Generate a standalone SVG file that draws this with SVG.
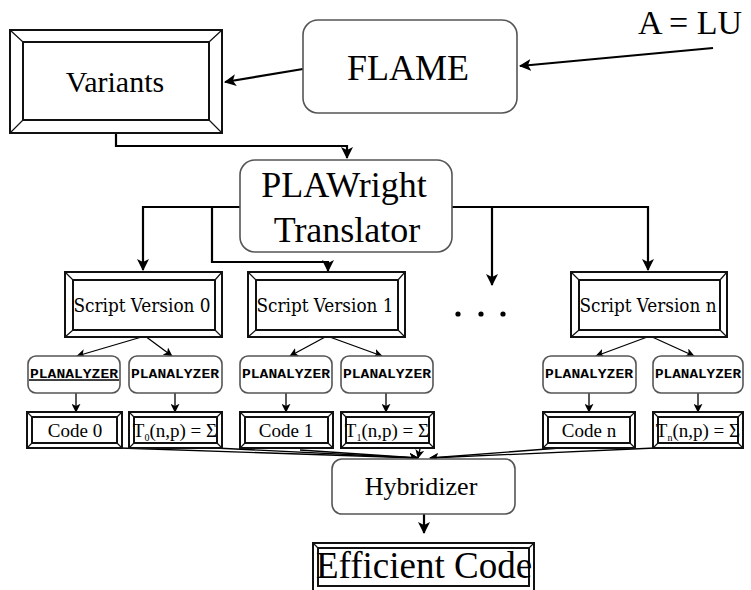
<svg xmlns="http://www.w3.org/2000/svg" width="751" height="590" viewBox="0 0 751 590">
  <defs>
    <marker id="arr" viewBox="0 0 12 12" refX="11" refY="6" markerWidth="12" markerHeight="12" markerUnits="userSpaceOnUse" orient="auto">
      <path d="M0,0 L12,6 L0,12 L3,6 Z" fill="#000"/>
    </marker>
    <marker id="arrs" viewBox="0 0 12 12" refX="11" refY="6" markerWidth="9" markerHeight="9" markerUnits="userSpaceOnUse" orient="auto">
      <path d="M0,0 L12,6 L0,12 L3,6 Z" fill="#000"/>
    </marker>
  </defs>
  <style>
    .frame { fill: #fff; stroke: #111; stroke-width: 2; }
    .inner { fill: none; stroke: #111; stroke-width: 2; }
    .bevel { stroke: #111; stroke-width: 1.2; }
    .round { fill: #fff; stroke: #555; stroke-width: 1.6; }
    .edge { fill: none; stroke: #000; stroke-width: 2.2; }
    .thin { fill: none; stroke: #000; stroke-width: 1.3; }
    text { fill: #000; text-anchor: middle; }
  </style>

  <rect width="751" height="590" fill="#fff"/>

  <!-- connectors -->
  <g id="connectors">
    <line class="edge" x1="713" y1="48" x2="520" y2="66" marker-end="url(#arr)"/>
    <line class="edge" x1="303" y1="69" x2="225" y2="82" marker-end="url(#arr)"/>
    <polyline class="edge" points="116,133 116,146 347,146 347,158" marker-end="url(#arr)"/>
    <polyline class="edge" points="240,207 143,207 143,270" marker-end="url(#arr)"/>
    <polyline class="edge" points="212,207 212,262 328,262 328,271" marker-end="url(#arr)"/>
    <polyline class="edge" points="452,207 648,207 648,270" marker-end="url(#arr)"/>
    <polyline class="edge" points="492,207 492,285" marker-end="url(#arr)"/>

    <line class="thin" x1="145" y1="336" x2="77" y2="356" marker-end="url(#arrs)"/>
    <line class="thin" x1="145" y1="336" x2="172" y2="356" marker-end="url(#arrs)"/>
    <line class="thin" x1="327" y1="336" x2="290" y2="356" marker-end="url(#arrs)"/>
    <line class="thin" x1="327" y1="336" x2="382" y2="356" marker-end="url(#arrs)"/>
    <line class="thin" x1="650" y1="336" x2="596" y2="356" marker-end="url(#arrs)"/>
    <line class="thin" x1="650" y1="336" x2="694" y2="356" marker-end="url(#arrs)"/>

    <line class="thin" x1="76" y1="393" x2="76" y2="412" marker-end="url(#arrs)"/>
    <line class="thin" x1="175" y1="393" x2="175" y2="412" marker-end="url(#arrs)"/>
    <line class="thin" x1="286" y1="393" x2="286" y2="412" marker-end="url(#arrs)"/>
    <line class="thin" x1="386" y1="393" x2="386" y2="412" marker-end="url(#arrs)"/>
    <line class="thin" x1="589" y1="393" x2="589" y2="412" marker-end="url(#arrs)"/>
    <line class="thin" x1="698" y1="393" x2="698" y2="412" marker-end="url(#arrs)"/>

    <line class="thin" x1="120" y1="448" x2="418" y2="458" marker-end="url(#arrs)"/>
    <line class="thin" x1="215" y1="448" x2="418" y2="458" marker-end="url(#arrs)"/>
    <line class="thin" x1="300" y1="450" x2="418" y2="458" marker-end="url(#arrs)"/>
    <line class="thin" x1="420" y1="449" x2="418" y2="458" marker-end="url(#arrs)"/>
    <line class="thin" x1="560" y1="448" x2="430" y2="458" marker-end="url(#arrs)"/>
    <line class="thin" x1="655" y1="448" x2="430" y2="458" marker-end="url(#arrs)"/>
    <line class="edge" x1="424" y1="514" x2="424" y2="533" marker-end="url(#arr)"/>
  </g>

  <!-- input label -->
  <g id="input">
    <text x="690" y="34" font-size="34" font-family="Liberation Serif, DejaVu Serif, serif">A = LU</text>
  </g>

  <g id="flame">
    <rect class="round" x="303" y="20" width="214" height="93" rx="15"/>
    <text x="408" y="80" font-size="36" font-family="Liberation Serif, DejaVu Serif, serif">FLAME</text>
  </g>

  <g id="variants">
    <rect class="frame" x="10" y="30" width="212" height="103"/>
    <rect class="inner" x="23" y="42" width="186" height="78"/>
    <path class="bevel" d="M10,30 L23,42 M222,30 L209,42 M10,133 L23,120 M222,133 L209,120"/>
    <text x="115" y="92" font-size="30" font-family="Liberation Serif, DejaVu Serif, serif">Variants</text>
  </g>

  <g id="plawright">
    <rect class="round" x="240" y="160" width="212" height="92" rx="15"/>
    <text x="344" y="197" font-size="36" font-family="Liberation Serif, DejaVu Serif, serif">PLAWright</text>
    <text x="347" y="242" font-size="36" font-family="Liberation Serif, DejaVu Serif, serif">Translator</text>
  </g>

  <g id="script0">
    <rect class="frame" x="65" y="272" width="157" height="65"/>
    <rect class="inner" x="73" y="280" width="142" height="50"/>
    <path class="bevel" d="M65,272 L73,280 M222,272 L215,280 M65,337 L73,330 M222,337 L215,330"/>
    <text x="142" y="312" font-size="18" font-family="DejaVu Serif Condensed, DejaVu Serif, serif" textLength="137" lengthAdjust="spacingAndGlyphs">Script Version 0</text>
  </g>
  <g id="script1">
    <rect class="frame" x="248" y="272" width="157" height="65"/>
    <rect class="inner" x="256" y="280" width="142" height="50"/>
    <path class="bevel" d="M248,272 L256,280 M405,272 L398,280 M248,337 L256,330 M405,337 L398,330"/>
    <text x="325" y="312" font-size="18" font-family="DejaVu Serif Condensed, DejaVu Serif, serif" textLength="137" lengthAdjust="spacingAndGlyphs">Script Version 1</text>
  </g>
  <g id="dots">
    <circle cx="458" cy="314" r="2.6" fill="#000"/>
    <circle cx="481" cy="314" r="2.6" fill="#000"/>
    <circle cx="503" cy="314" r="2.6" fill="#000"/>
  </g>
  <g id="scriptn">
    <rect class="frame" x="571" y="272" width="156" height="65"/>
    <rect class="inner" x="579" y="280" width="141" height="50"/>
    <path class="bevel" d="M571,272 L579,280 M727,272 L720,280 M571,337 L579,330 M727,337 L720,330"/>
    <text x="648" y="312" font-size="18" font-family="DejaVu Serif Condensed, DejaVu Serif, serif" textLength="137" lengthAdjust="spacingAndGlyphs">Script Version n</text>
  </g>

  <!-- analyzers -->
  <g id="analyzer0a">
    <rect class="round" x="28" y="356" width="92" height="37" rx="8"/>
    <line class="thin" x1="29" y1="380" x2="119" y2="380"/>
    <text x="74" y="378" font-size="12" font-weight="bold" font-family="Liberation Mono, DejaVu Sans Mono, monospace" textLength="88" lengthAdjust="spacingAndGlyphs">PLANALYZER</text>
  </g>
  <g id="analyzer0b">
    <rect class="round" x="129" y="356" width="93" height="37" rx="8"/>
    <text x="175" y="378" font-size="12" font-weight="bold" font-family="Liberation Mono, DejaVu Sans Mono, monospace" textLength="88" lengthAdjust="spacingAndGlyphs">PLANALYZER</text>
  </g>
  <g id="analyzer1a">
    <rect class="round" x="240" y="356" width="92" height="37" rx="8"/>
    <text x="286" y="378" font-size="12" font-weight="bold" font-family="Liberation Mono, DejaVu Sans Mono, monospace" textLength="88" lengthAdjust="spacingAndGlyphs">PLANALYZER</text>
  </g>
  <g id="analyzer1b">
    <rect class="round" x="341" y="356" width="92" height="37" rx="8"/>
    <text x="387" y="378" font-size="12" font-weight="bold" font-family="Liberation Mono, DejaVu Sans Mono, monospace" textLength="88" lengthAdjust="spacingAndGlyphs">PLANALYZER</text>
  </g>
  <g id="analyzerna">
    <rect class="round" x="543" y="356" width="93" height="37" rx="8"/>
    <text x="589" y="378" font-size="12" font-weight="bold" font-family="Liberation Mono, DejaVu Sans Mono, monospace" textLength="88" lengthAdjust="spacingAndGlyphs">PLANALYZER</text>
  </g>
  <g id="analyzernb">
    <rect class="round" x="653" y="356" width="90" height="37" rx="8"/>
    <text x="698" y="378" font-size="12" font-weight="bold" font-family="Liberation Mono, DejaVu Sans Mono, monospace" textLength="86" lengthAdjust="spacingAndGlyphs">PLANALYZER</text>
  </g>

  <!-- generated code and cost models -->
  <g id="code0">
    <rect class="frame" x="27" y="412" width="95" height="36"/>
    <rect class="inner" x="32" y="417" width="85" height="26"/>
    <path class="bevel" d="M27,412 L32,417 M122,412 L117,417 M27,448 L32,443 M122,448 L117,443"/>
    <text x="75" y="437" font-size="19" font-family="Liberation Serif, DejaVu Serif, serif">Code 0</text>
  </g>
  <g id="cost0">
    <rect class="frame" x="129" y="412" width="93" height="36"/>
    <rect class="inner" x="134" y="417" width="83" height="26"/>
    <path class="bevel" d="M129,412 L134,417 M222,412 L217,417 M129,448 L134,443 M222,448 L217,443"/>
    <text x="175" y="437" font-size="19" font-family="Liberation Serif, DejaVu Serif, serif">T<tspan font-size="10" dy="4">0</tspan><tspan dy="-4">(n,p) = Σ</tspan></text>
  </g>
  <g id="code1">
    <rect class="frame" x="240" y="412" width="93" height="36"/>
    <rect class="inner" x="245" y="417" width="83" height="26"/>
    <path class="bevel" d="M240,412 L245,417 M333,412 L328,417 M240,448 L245,443 M333,448 L328,443"/>
    <text x="286" y="437" font-size="19" font-family="Liberation Serif, DejaVu Serif, serif">Code 1</text>
  </g>
  <g id="cost1">
    <rect class="frame" x="341" y="412" width="93" height="36"/>
    <rect class="inner" x="346" y="417" width="83" height="26"/>
    <path class="bevel" d="M341,412 L346,417 M434,412 L429,417 M341,448 L346,443 M434,448 L429,443"/>
    <text x="387" y="437" font-size="19" font-family="Liberation Serif, DejaVu Serif, serif">T<tspan font-size="10" dy="4">1</tspan><tspan dy="-4">(n,p) = Σ</tspan></text>
  </g>
  <g id="coden">
    <rect class="frame" x="543" y="412" width="92" height="36"/>
    <rect class="inner" x="548" y="417" width="82" height="26"/>
    <path class="bevel" d="M543,412 L548,417 M635,412 L630,417 M543,448 L548,443 M635,448 L630,443"/>
    <text x="589" y="437" font-size="19" font-family="Liberation Serif, DejaVu Serif, serif">Code n</text>
  </g>
  <g id="costn">
    <rect class="frame" x="653" y="412" width="90" height="36"/>
    <rect class="inner" x="658" y="417" width="80" height="26"/>
    <path class="bevel" d="M653,412 L658,417 M743,412 L738,417 M653,448 L658,443 M743,448 L738,443"/>
    <text x="698" y="437" font-size="19" font-family="Liberation Serif, DejaVu Serif, serif">T<tspan font-size="10" dy="4">n</tspan><tspan dy="-4">(n,p) = Σ</tspan></text>
  </g>

  <g id="hybridizer">
    <rect class="round" x="332" y="459" width="183" height="55" rx="10"/>
    <text x="421" y="495" font-size="26" font-family="Liberation Serif, DejaVu Serif, serif">Hybridizer</text>
  </g>

  <g id="efficient">
    <rect class="frame" x="313" y="543" width="221" height="48"/>
    <rect class="inner" x="318" y="548" width="211" height="38"/>
    <path class="bevel" d="M313,543 L318,548 M534,543 L529,548"/>
    <text x="424" y="578" font-size="37" font-family="Liberation Serif, DejaVu Serif, serif">Efficient Code</text>
  </g>
</svg>
